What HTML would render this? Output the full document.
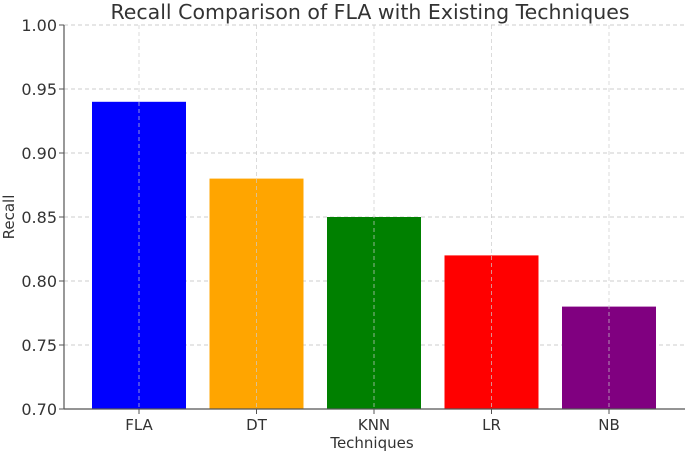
<!DOCTYPE html>
<html><head><meta charset="utf-8"><style>
body{margin:0;background:#fff;}
svg{display:block;font-family:"DejaVu Sans","Liberation Sans",sans-serif;}
</style></head><body>
<svg width="685" height="454" id="chart">
<text x="370" y="19" font-size="20.5" fill="#333" text-anchor="middle">Recall Comparison of FLA with Existing Techniques</text>
<text x="372" y="448" font-size="15" fill="#333" text-anchor="middle">Techniques</text>
<text transform="translate(14,217) rotate(-90)" font-size="15" fill="#333" text-anchor="middle">Recall</text>
<g id="grid"></g><g id="bars"></g><g id="gridtop"></g><g id="axes"></g>
</svg>
<script>
const categories=["FLA","DT","KNN","LR","NB"];
const recall=[0.94,0.88,0.85,0.82,0.78];
const colors=["#0000ff","#ffa500","#008000","#ff0000","#800080"];
const yTicks=[0.70,0.75,0.80,0.85,0.90,0.95,1.00];
const NS="http://www.w3.org/2000/svg";
const X0=64,X1=685,Y0=409,Y1=25;
const y=v=>Y0-(v-0.70)/(0.30)*(Y0-Y1);
const x=i=>139+117.5*i;
const bw=94;
function mk(t,a,p){const e=document.createElementNS(NS,t);for(const k in a)e.setAttribute(k,a[k]);document.getElementById(p).appendChild(e);return e;}
yTicks.forEach(v=>{
 const g=mk("line",{x1:X0,x2:X1,y1:y(v),y2:y(v),stroke:"#ccc","stroke-dasharray":"4,3","stroke-width":1},"grid");
 
 
 const t=mk("line",{x1:X0-5,x2:X0,y1:y(v),y2:y(v),stroke:"#555"},"axes");
 
 
 const l=mk("text",{x:X0-7,y:y(v)+6,"font-size":16,fill:"#333","text-anchor":"end"},"axes");
 l.textContent=v.toFixed(2);
 
 
});
categories.forEach((c,i)=>{
 const r=mk("rect",{x:x(i)-bw/2,y:y(recall[i]),width:bw,height:Y0-y(recall[i]),fill:colors[i]},"bars");
 
 
 const g=mk("line",{x1:x(i),x2:x(i),y1:Y1,y2:Y0,stroke:"#ccc","stroke-opacity":0.7,"stroke-dasharray":"4,3"},"gridtop");
 
 
 const t=mk("line",{x1:x(i),x2:x(i),y1:Y0,y2:Y0+5,stroke:"#555"},"axes");
 
 
 const l=mk("text",{x:x(i),y:Y0+21,"font-size":15,fill:"#333","text-anchor":"middle"},"axes");
 l.textContent=c;
 
 
});
const ya=mk("line",{x1:X0,x2:X0,y1:Y1,y2:Y0,stroke:"#555","stroke-width":1.2},"axes");


const xa=mk("line",{x1:X0,x2:X1,y1:Y0,y2:Y0,stroke:"#555","stroke-width":1.2},"axes");


</script>
</body></html>
